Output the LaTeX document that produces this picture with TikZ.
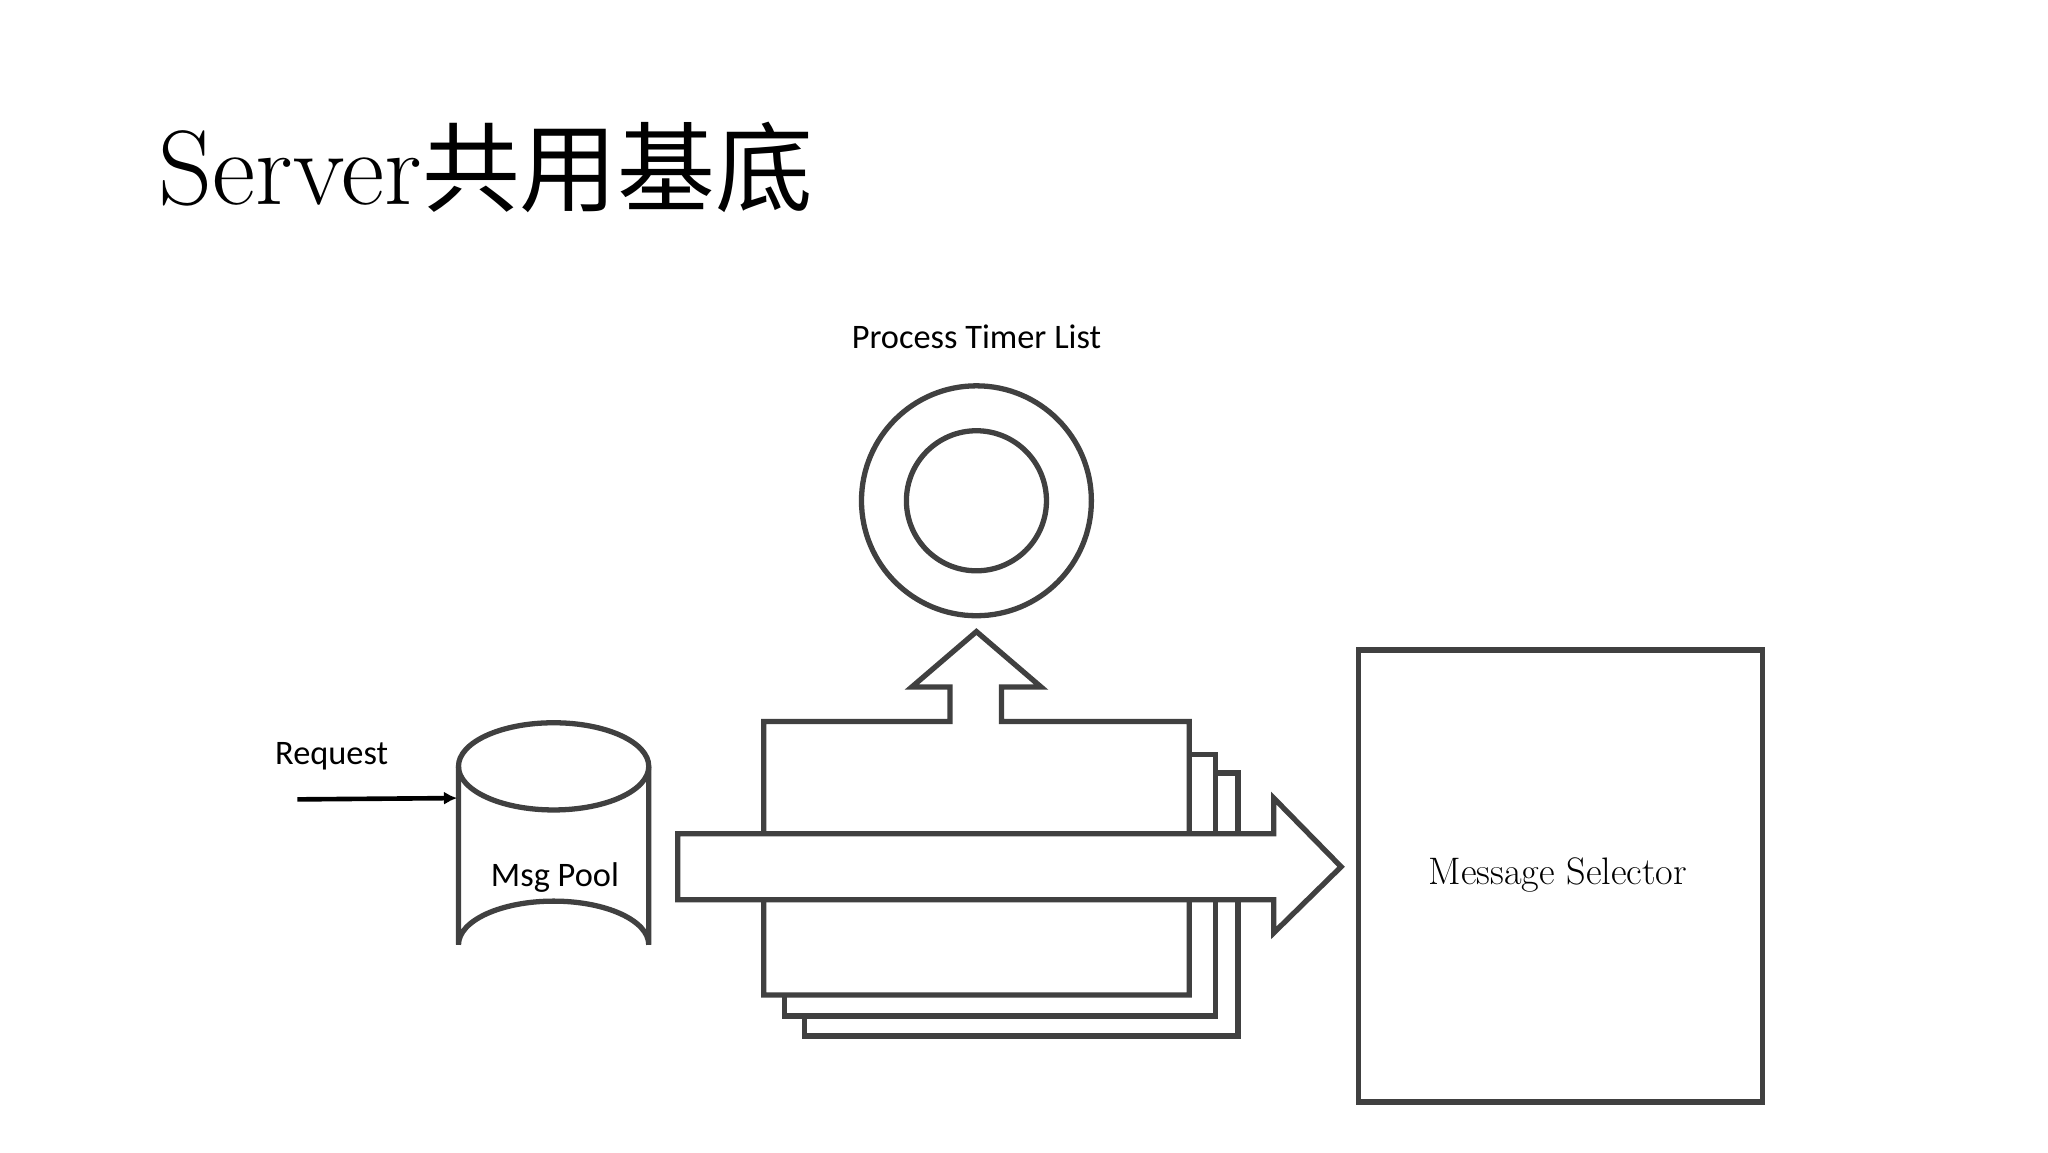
\documentclass[tikz,border=0pt]{standalone}
\usetikzlibrary{arrows.meta}
\usepackage{fontspec}
\newfontfamily\cjk{Noto Sans CJK SC}[Scale=1]
\newfontfamily\sans{Carlito}
\definecolor{ln}{HTML}{404040}
\begin{document}
\begin{tikzpicture}[x=1pt,y=-1pt,
  shp/.style={draw=ln,line width=4pt,fill=white,line join=miter},
  lab/.style={font=\sans\fontsize{26}{30}\selectfont,inner sep=0pt}]
\useasboundingbox (0,0) rectangle (1550,872);
% title
\node[anchor=base west,inner sep=0pt,font=\fontsize{80}{90}\selectfont] (title) at (120,155) {Server{\cjk\fontsize{74}{80}\selectfont 共用基底}};
% timer list
\node[lab] (ptl) at (739,255) {Process Timer List};
\draw[shp] (739,379) circle (87);
\draw[shp] (739,379) circle (53);
\coordinate (ring) at (739,379);
% stacked pages
\draw[shp] (609,585) rectangle (937,784);
\draw[shp] (594,571) rectangle (920,769);
\draw[shp] (578,753) -- (578,546) -- (719,546) -- (719,520) -- (690,520) -- (739,478) -- (788,520) -- (758,520) -- (758,546) -- (900,546) -- (900,753) -- cycle;
% right arrow
\draw[shp] (513,631) -- (964,631) -- (964,604) -- (1015,656) -- (964,706) -- (964,681) -- (513,681) -- cycle;
% cylinder
\draw[shp] (347,580) -- (347,715) arc[start angle=180,end angle=360,x radius=72,y radius=33] -- (491,580) arc[start angle=0,end angle=-180,x radius=72,y radius=33] -- cycle;
\draw[shp,fill=none] (347,580) arc[start angle=180,end angle=360,x radius=72,y radius=-33];
\node[lab] (pool) at (420,664) {Msg Pool};
\coordinate (poolin) at (346,604);
% request
\node[lab] (req) at (251,572) {Request};
\coordinate (reqs) at (225,605);
\draw[line width=3.5pt,-{Latex[length=10pt,width=10pt]}] (reqs) -- (poolin);
% selector
\node[shp,minimum width=306pt,minimum height=342pt,anchor=north west,inner sep=0pt] (sel) at (1026,490) {};
\node[font=\fontsize{29}{34}\selectfont,inner sep=0pt] (selt) at (1179,662) {Message Selector};
\end{tikzpicture}
\end{document}
